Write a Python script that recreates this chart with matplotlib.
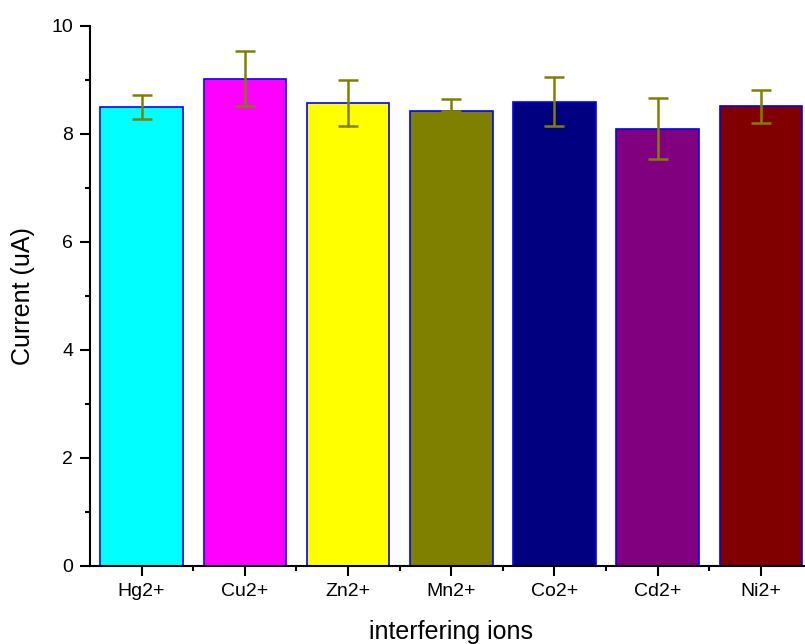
import numpy as np
import matplotlib
matplotlib.use("Agg")
import matplotlib.pyplot as plt
from matplotlib.ticker import MultipleLocator, FixedLocator

plt.rcParams['font.family'] = ['Liberation Sans', 'DejaVu Sans']

ions = ['Hg2+', 'Cu2+', 'Zn2+', 'Mn2+', 'Co2+', 'Cd2+', 'Ni2+']
current = [8.50, 9.02, 8.57, 8.43, 8.60, 8.10, 8.51]
err_low = [0.22, 0.51, 0.43, 0.0, 0.45, 0.57, 0.31]
err_high = [0.22, 0.51, 0.43, 0.22, 0.46, 0.56, 0.30]
colors = ['#00FFFF', '#FF00FF', '#FFFF00', '#808000', '#000080', '#800080', '#800000']

fig = plt.figure(figsize=(8.05, 6.44), dpi=100)
# axes runs a little past the right edge of the figure, as in the original
ax = fig.add_axes([90 / 805, 78 / 644, 722.5 / 805, 540 / 644])

x = np.arange(1, len(ions) + 1)
ax.bar(x, current, width=0.8, color=colors, edgecolor='#0000FF', linewidth=1.2, zorder=2)
ax.errorbar(x, current, yerr=[err_low, err_high], fmt='none', ecolor='#808000',
            elinewidth=1.8, capsize=7.5, capthick=1.8, zorder=3)

ax.set_xlim(0.5, 7.5)
ax.set_ylim(0, 10)
ax.set_xticks(x)
ax.set_xticklabels(ions)
ax.xaxis.set_minor_locator(FixedLocator(np.arange(1.5, 8, 1)))
ax.yaxis.set_major_locator(MultipleLocator(2))
ax.yaxis.set_minor_locator(MultipleLocator(1))

for side in ['top', 'right']:
    ax.spines[side].set_visible(False)
for side in ['left', 'bottom']:
    ax.spines[side].set_linewidth(1.5)

ax.tick_params(which='major', direction='out', length=7, width=1.5, labelsize=14, pad=5)
ax.tick_params(which='minor', direction='out', length=3.5, width=1.5)

ax.set_xlabel('interfering ions', fontsize=18, labelpad=15)
ax.set_ylabel('Current (uA)', fontsize=18, labelpad=12)

fig.savefig('out.png', dpi=100)
